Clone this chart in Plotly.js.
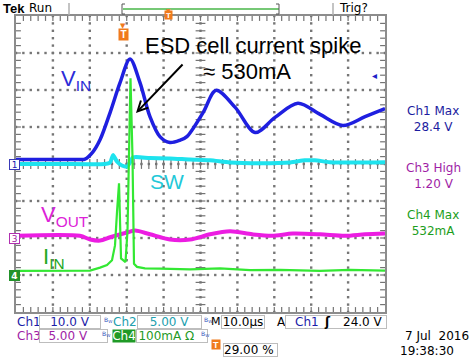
<!DOCTYPE html>
<html><head><meta charset="utf-8">
<script src="https://cdn.plot.ly/plotly-3.0.1.min.js"></script>
<style>html,body{margin:0;padding:0;background:#fff;overflow:hidden}#c{width:476px;height:357px}</style>
</head><body><div id="c"></div>
<script>
// ---- scope settings ----
const timePerDiv = 10;          // µs/div
const triggerPct = 29;          // trigger position %
const ch1Scale = 10, ch1Pos = 0;    // V/div, divisions
const ch2Scale = 5,  ch2Pos = 0;
const ch3Scale = 5,  ch3Pos = -2;
const ch4Scale = 100, ch4Pos = -3;  // mA/div
const trigLevel = 24.0;

// ---- Ch1 : V_IN (V) ----
const tCh1 = [-29, -20, -12, -10.3, -8.2, -6.2, -3.5, -0.8, 1.9, 4.6, 7.3, 10.0, 12.7, 15.4, 17.3, 21.7, 25.2, 30.4, 35.8, 41.2, 47.4, 53.4, 59.6, 65.6, 71];
const vCh1 = [1.2, 1.2, 1.2, 1.3, 3.2, 6.6, 13.9, 22.0, 28.4, 22.0, 12.8, 7.4, 5.8, 6.4, 7.4, 13.9, 19.9, 15.3, 8.5, 12.6, 16.4, 13.4, 10.4, 12.8, 15.0];

// ---- Ch2 : SW (V) ----
const tCh2 = [-29, -17.1, -4.9, -3.5, -2.7, -1.6, -0.3, 1.1, 1.9, 2.7, 7.3, 12.7, 18.2, 23.6, 29.0, 37.1, 45.3, 49.3, 52.0, 56.1, 64.2, 71.0];
const vCh2 = [0.0, 0.0, 0.0, 0.2, 1.2, 0.3, -0.2, -0.35, 0.2, 0.9, 0.8, 0.75, 0.6, 0.5, 0.2, 0.1, 0.2, 0.5, 0.5, 0.25, 0.2, 0.25];

// ---- Ch3 : V_OUT (V) ----
const tCh3 = [-29, -11.7, -8.9, -6.2, -3.5, 1.1, 3.3, 7.3, 12.7, 18.2, 23.6, 29.0, 35.0, 40.4, 46.0, 53.4, 60.2, 65.6, 71.0];
const vCh3 = [0.3, 0.3, -0.2, -0.35, 0.1, 0.75, 1.0, 0.5, -0.2, -0.2, 0.5, 0.9, 0.5, 0.3, 0.6, 0.5, 0.3, 0.5, 0.6];

// ---- Ch4 : I_IN (mA) ----
const tCh4 = [-29, -17.07, -8.94, -6.23, -4.34, -2.98, -2.17, -1.63, -1.08, -0.54, 0, 0.68, 1.22, 2.03, 2.57, 2.98, 3.79, 5.96, 10.03, 18.16, 26.29, 34.42, 42.55, 53.39, 61.52, 71.0];
const iCh4 = [11, 11, 12, 20, 27, 40, 80, 170, 248, 45, 40, 35, 120, 532, 320, 30, 22, 18, 17, 15, 18, 13, 14, 11, 14, 12];

// ---- readouts ----
const measLabels = ['Ch1 Max<br>28.4 V', 'Ch3 High<br>1.20 V', 'Ch4 Max<br>532mA'];
const dateText = '7 Jul  2016', timeText = '19:38:30';

const L=16, R=385, T=16, B=312;
const PX = x => (x-L)/(R-L), PY = y => (B-y)/(B-T);
const UI = 'DejaVu Sans', AR = 'Liberation Sans, Arial, sans-serif';
const tMin = -triggerPct/100*10*timePerDiv, tMax = tMin + 10*timePerDiv;
const tMid = (tMin+tMax)/2;
// vertical scale: screen divisions; each channel mapped by its volts/div and position
const toDiv = (arr,s,p) => arr.map(v => v/s + p);

// graticule built from division counts (10 x 8 divisions, 5 subdivisions)
const gdx=[], gdy=[], tkx=[], tky=[], tkxs=[], tkys=[];
for(let k=1;k<10;k++) for(let j=0;j<=40;j++){ gdx.push(tMin+k*timePerDiv); gdy.push(-4+j*0.2); }
for(let k=1;k<8;k++) for(let j=0;j<=50;j++){ gdx.push(tMin+j*timePerDiv/5); gdy.push(-4+k); }
for(let j=1;j<50;j++){ [ -4, 0, 4 ].forEach(y=>{ tkx.push(tMin+j*timePerDiv/5); tky.push(y); }); }
for(let j=1;j<40;j++){ [ tMin, tMid, tMax ].forEach(x=>{ tkxs.push(x); tkys.push(-4+j*0.2); }); }

const tickC = '#747474';
const traces = [
  {x:gdx,y:gdy,mode:'markers',marker:{symbol:'square',size:2.4,color:'#767676'},hoverinfo:'skip'},
  {x:tkx,y:tky,mode:'markers',marker:{symbol:'line-ns',size:7,color:tickC,line:{width:1.2,color:tickC}},hoverinfo:'skip'},
  {x:tkxs,y:tkys,mode:'markers',marker:{symbol:'line-ew',size:7,color:tickC,line:{width:1.2,color:tickC}},hoverinfo:'skip'},
  {x:tCh1,y:toDiv(vCh1,ch1Scale,ch1Pos),mode:'lines',line:{color:'#1f1fe0',width:3.5,shape:'spline',smoothing:0.9},hoverinfo:'skip'},
  {x:tCh2,y:toDiv(vCh2,ch2Scale,ch2Pos),mode:'lines',line:{color:'#1ee3ee',width:4,shape:'spline',smoothing:0.6},hoverinfo:'skip'},
  {x:tCh3,y:toDiv(vCh3,ch3Scale,ch3Pos),mode:'lines',line:{color:'#ec1ce2',width:4,shape:'spline',smoothing:0.8},hoverinfo:'skip'},
  {x:tCh4,y:toDiv(iCh4,ch4Scale,ch4Pos),mode:'lines',line:{color:'#33e833',width:2.2},hoverinfo:'skip'}
];

const layout = {
  width:476, height:357, margin:{l:L,r:476-R,t:T,b:357-B},
  paper_bgcolor:'#fff', plot_bgcolor:'#fff', showlegend:false,
  xaxis:{range:[tMin,tMax],showticklabels:false,ticks:'',showgrid:false,zeroline:false,
    showline:true,linecolor:'#8c8c8c',linewidth:2,mirror:true,fixedrange:true},
  yaxis:{range:[-4,4],showticklabels:false,ticks:'',showgrid:false,zeroline:false,
    showline:true,linecolor:'#8c8c8c',linewidth:2,mirror:true,fixedrange:true},
  shapes:[], annotations:[]
};

const A = layout.annotations, S = layout.shapes;
function txt(x,y,text,o){ A.push(Object.assign({xref:'paper',yref:'paper',x:PX(x),y:PY(y),text,showarrow:false,xanchor:'left',yanchor:'middle',font:{family:UI,size:12,color:'#000'}},o||{})); }
function box(x0,x1,yc,text,color,o){ A.push(Object.assign({xref:'paper',yref:'paper',x:PX(x0),y:PY(yc),xanchor:'left',yanchor:'middle',text,showarrow:false,
  font:{family:UI,size:12,color},bgcolor:'#fff',bordercolor:'#bdbdbd',borderwidth:1,borderpad:0,width:x1-x0-2,height:12,align:'center'},o||{})); }
function line(x0,y0,x1,y1,c,w){ S.push({type:'line',xref:'paper',yref:'paper',x0:PX(x0),y0:PY(y0),x1:PX(x1),y1:PY(y1),line:{color:c,width:w}}); }

// header
txt(1,8,'<b>Tek</b>',{font:{family:AR,size:13,color:'#000'}});
txt(27,8,'Run');
txt(337,8,'Trig?');
line(69,3,69,15,'#b0b0b0',1.5);
line(333,3,333,15,'#b0b0b0',1.5);
line(123,9,279,9,'#49b649',1.5);
line(122,4,122,14,'#555',1); line(122,4,125,4,'#555',1); line(122,14,125,14,'#555',1);
line(279,4,279,14,'#555',1); line(276,4,279,4,'#555',1); line(276,14,279,14,'#555',1);
A.push({xref:'paper',yref:'paper',x:PX(168),y:PY(10.5),text:'<b>T</b>',showarrow:false,font:{family:AR,size:8,color:'#fff'},bgcolor:'#f07a1c',borderpad:0,width:7,height:8});
A.push({xref:'paper',yref:'paper',x:PX(168),y:PY(5),text:'▼',showarrow:false,font:{family:UI,size:6,color:'#f07a1c'}});
// trigger position marker
A.push({xref:'x',yref:'paper',x:0,y:PY(28),text:'<b>T</b>',showarrow:false,font:{family:AR,size:10,color:'#fff'},bgcolor:'#f07a1c',borderpad:0,width:9,height:11});
A.push({xref:'x',yref:'paper',x:0,y:PY(19.5),text:'▼',showarrow:false,font:{family:UI,size:7,color:'#f07a1c'}});
// trigger level marker (Ch1)
A.push({xref:'paper',yref:'y',x:PX(379),y:trigLevel/ch1Scale+ch1Pos,text:'◂',showarrow:false,font:{family:UI,size:10,color:'#2020c8'}});

// channel ground markers
A.push({xref:'paper',yref:'y',x:PX(9),y:ch1Pos,text:'1',showarrow:false,font:{family:UI,size:9,color:'#2020b0'},bgcolor:'#fff',bordercolor:'#3a3ab8',borderwidth:1,borderpad:0,width:9,height:9});
A.push({xref:'paper',yref:'y',x:PX(9),y:ch3Pos,text:'3',showarrow:false,font:{family:UI,size:9,color:'#a020a0'},bgcolor:'#fff',bordercolor:'#b030b0',borderwidth:1,borderpad:0,width:9,height:9});
A.push({xref:'paper',yref:'y',x:PX(9),y:ch4Pos,text:'<b>4</b>',showarrow:false,font:{family:UI,size:9,color:'#fff'},bgcolor:'#22922a',bordercolor:'#22922a',borderwidth:1,borderpad:0,width:9,height:9});

// annotations in plot
txt(253,45,'ESD cell current spike',{xanchor:'center',font:{family:AR,size:22,color:'#000'}});
txt(247,72,'≈ 530mA',{xanchor:'center',font:{family:AR,size:22,color:'#000'}});
A.push({xref:'paper',yref:'paper',x:PX(136),y:PY(113),ax:48,ay:-50,text:'',showarrow:true,arrowhead:5,arrowsize:1,arrowwidth:2,arrowcolor:'#000'});
txt(59,80,'V<sub>IN</sub>',{font:{family:AR,size:22,color:'#2c2cd8'}});
txt(148,181,'SW',{font:{family:AR,size:21,color:'#22c8d8'}});
txt(39,216,'V<sub>OUT</sub>',{font:{family:AR,size:22,color:'#dd22d8'}});
txt(41,258,'I<sub>IN</sub>',{font:{family:AR,size:22,color:'#22a822'}});

// right measurements
const mColors = ['#1c1ca0','#a01ea6','#1c9e1c'];
const mY = [119,176,223];
measLabels.forEach((m,i)=>txt(433,mY[i],m,{xanchor:'center',align:'center',font:{family:UI,size:12,color:mColors[i]}}));

// bottom readouts
const bw = (x,y,c)=>txt(x,y,'B<sub>W</sub>',{font:{family:UI,size:6,color:c||'#3355bb'}});
txt(15,321.5,'Ch1',{font:{family:UI,size:12,color:'#1c1ca8'}});
box(39,101,321.5,'10.0 V','#1c1ca8');
bw(101.5,320);
txt(111,321.5,'Ch2',{font:{family:UI,size:12,color:'#22a0ae'}});
box(137,202,321.5,'5.00 V','#22a0ae');
bw(202,320);
txt(209,321.5,'M',{font:{family:UI,size:11,color:'#000'}});
box(221,265,321.5,'10.0µs','#000');
txt(275,321.5,'A');
box(285,387,321.5,'','#000');
txt(293,321.5,'Ch1',{font:{family:UI,size:12,color:'#1c1ca8'}});
txt(322,321.5,'<b>ʃ</b>',{font:{family:UI,size:12,color:'#000'}});
txt(385,321.5,'24.0 V',{xanchor:'right'});
txt(15,335.5,'Ch3',{font:{family:UI,size:12,color:'#a01ea6'}});
box(39,108,335.5,'5.00 V&nbsp;&nbsp;&nbsp;','#a01ea6');
bw(100,334);
A.push({xref:'paper',yref:'paper',x:PX(112),y:PY(335.5),xanchor:'left',yanchor:'middle',text:'Ch4',showarrow:false,font:{family:UI,size:12,color:'#fff'},bgcolor:'#1f9a26',borderpad:0,width:22,height:12});
box(136,208,335.5,'100mA Ω&nbsp;&nbsp;&nbsp;','#1f9a26');
bw(199,334);
A.push({xref:'paper',yref:'paper',x:PX(216),y:PY(350),text:'<b>T</b>',showarrow:false,font:{family:AR,size:9,color:'#fff'},bgcolor:'#f07a1c',borderpad:0,width:8,height:9});
box(223,278,350,'29.00 %','#000',{align:'left'});
txt(471,336,dateText,{xanchor:'right'});
txt(398,351,timeText);

Plotly.newPlot('c',traces,layout,{staticPlot:true,displayModeBar:false});
</script></body></html>
